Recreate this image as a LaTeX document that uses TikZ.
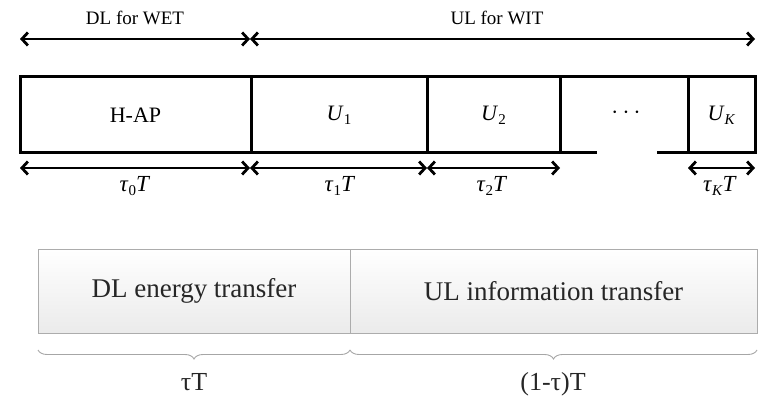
\documentclass[tikz,border=0pt]{standalone}
\usepackage{fontspec}
\setmainfont{Liberation Serif}
\usetikzlibrary{arrows.meta,decorations.pathreplacing}
\newcommand\lowsub[1]{\raisebox{-0.4ex}{\fontsize{15}{15}\selectfont #1}}
\begin{document}
\begin{tikzpicture}[x=1pt,y=-1pt,
  dim/.style={line width=2.8pt,{Straight Barb[length=6pt,width=13pt]}-{Straight Barb[length=6pt,width=13pt]}},
  cell/.style={draw, line width=3pt, inner sep=0pt, outer sep=0pt, minimum height=76pt, font=\fontsize{22}{22}\selectfont},
  lab/.style={inner sep=0pt, font=\fontsize{23}{23}\selectfont},
  toplab/.style={inner sep=0pt, font=\fontsize{19}{19}\selectfont},
  bigcell/.style={draw=gray!65, line width=0.9pt, top color=white, bottom color=gray!16, inner sep=0pt, outer sep=0pt, minimum height=84pt, text=black!85, font=\fontsize{27}{27}\selectfont},
  bracestyle/.style={draw=gray!70, line width=0.9pt, decorate, decoration={brace,mirror,amplitude=9pt}},
  blab/.style={inner sep=0pt, text=black!85, font=\fontsize{26}{26}\selectfont}]
\useasboundingbox (0,0) rectangle (761,398);
% top labels and arrows
\node[toplab] (dlwet) at (135,18) {DL for WET};
\node[toplab] (ulwit) at (497,18) {UL for WIT};
\coordinate (tl) at (20,39);
\coordinate (tm) at (250,39);
\coordinate (tr) at (755,39);
\draw[dim] (tl) -- (tm);
\draw[dim] (tm) -- (tr);
% frame cells
\node[cell, minimum width=231pt] (hap) at (135.5,115) {H-AP};
\node[cell, minimum width=176pt] (u1) at (339,115) {\textit{U}\lowsub{1}};
\node[cell, minimum width=133pt] (u2) at (493.5,115) {\textit{U}\lowsub{2}};
\node[cell, minimum width=67pt] (uk) at (721.5,115) {\textit{U}\lowsub{\textit{K}}};
\node[lab] (dots) at (626,113) {\fontsize{26}{26}\selectfont$\cdots$};
\draw[line width=3pt] (u2.north east) -- (uk.north west);
\draw[line width=3pt] (u2.south east) -- ++(37,0) coordinate (gapl);
\draw[line width=3pt] (uk.south west) -- ++(-31,0) coordinate (gapr);
% bottom arrows
\coordinate (b0) at (20,168);
\coordinate (b1) at (250,168);
\coordinate (b2) at (427,168);
\coordinate (b3) at (560,168);
\coordinate (b4) at (688,168);
\coordinate (b5) at (755,168);
\draw[dim] (b0) -- (b1);
\draw[dim] (b1) -- (b2);
\draw[dim] (b2) -- (b3);
\draw[dim] (b4) -- (b5);
\node[lab] (t0) at (135,186) {\textit{τ}\lowsub{0}\textit{T}};
\node[lab] (t1) at (340,186) {\textit{τ}\lowsub{1}\textit{T}};
\node[lab] (t2) at (492,186) {\textit{τ}\lowsub{2}\textit{T}};
\node[lab] (tk) at (720,186) {\textit{τ}\lowsub{\textit{K}}\textit{T}};
% lower diagram
\node[bigcell, minimum width=312pt] (dl) at (194,291) {DL energy transfer};
\node[bigcell, minimum width=407pt] (ul) at (553.5,291) {UL information transfer};
\coordinate (br0) at (38,350);
\coordinate (br1) at (350,350);
\coordinate (br2) at (757,350);
\draw[bracestyle] (br0) -- (br1);
\draw[bracestyle] (br1) -- (br2);
\node[blab] (taut) at (194,382) {τT};
\node[blab] (oneminus) at (553,384) {(1-τ)T};
\end{tikzpicture}
\end{document}
